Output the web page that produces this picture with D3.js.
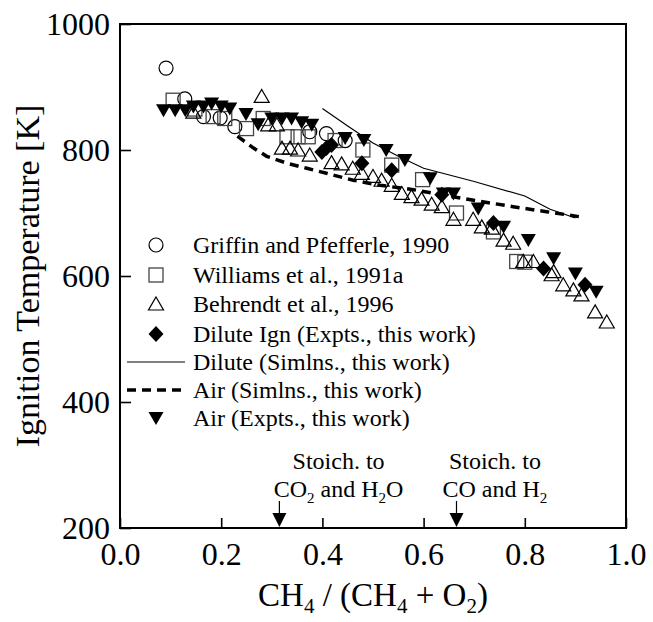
<!DOCTYPE html>
<html>
<head>
<meta charset="utf-8">
<script src="https://cdn.jsdelivr.net/npm/d3@7/dist/d3.min.js"></script>
<style>
  html, body { margin: 0; padding: 0; background: #fff; }
  svg { display: block; font-family: "Liberation Serif", "Times New Roman", serif; }
</style>
</head>
<body>
<svg id="chart" width="653" height="622"></svg>
<script>
// Ignition temperature vs. CH4 / (CH4 + O2)
const griffin = [[0.091,930],[0.128,881],[0.165,853],[0.198,851],[0.227,837],[0.375,829],[0.408,826],[0.445,815]];
const williams = [[0.105,879],[0.148,865],[0.184,853],[0.207,850],[0.25,834],[0.283,850],[0.33,821],[0.352,821],[0.372,821],[0.425,815],[0.48,800],[0.537,776],[0.598,753],[0.665,700],[0.738,670],[0.784,623],[0.80,622]];
const behrendt = [[0.145,860],[0.28,885],[0.293,840],[0.31,840],[0.32,803],[0.336,803],[0.352,800],[0.375,792],[0.418,780],[0.438,778],[0.46,771],[0.478,763],[0.50,758],[0.517,752],[0.537,744],[0.557,731],[0.576,726],[0.596,722],[0.616,714],[0.636,710],[0.659,690],[0.698,690],[0.715,678],[0.735,676],[0.758,657],[0.777,652],[0.797,623],[0.817,623],[0.853,602],[0.857,607],[0.876,586],[0.896,578],[0.912,570],[0.939,543],[0.962,527]];
const diluteIgn = [[0.399,797],[0.408,803],[0.418,808],[0.478,779],[0.537,768],[0.636,729],[0.738,684],[0.837,612],[0.919,586]];
const diluteSim = [[0.40,866],[0.45,838],[0.50,811],[0.55,790],[0.60,771],[0.70,750],[0.80,727],[0.85,706],[0.90,692]];
const airSim = [[0.232,822],[0.264,803],[0.29,790],[0.33,779],[0.369,771],[0.408,763],[0.461,752],[0.514,744],[0.58,737],[0.678,723],[0.777,710],[0.843,702],[0.909,694]];
const airExp = [[0.086,863],[0.109,863],[0.129,863],[0.145,869],[0.165,869],[0.181,874],[0.20,869],[0.217,866],[0.249,857],[0.273,841],[0.30,850],[0.32,850],[0.339,850],[0.359,844],[0.379,840],[0.445,819],[0.482,816],[0.526,800],[0.563,784],[0.613,755],[0.639,731],[0.659,731],[0.708,707],[0.758,678],[0.807,657],[0.857,628],[0.90,604],[0.941,575]];

const xMajorTicks = [0, 0.2, 0.4, 0.6, 0.8, 1.0];
const xMinorTicks = [0.05,0.1,0.15,0.25,0.3,0.35,0.45,0.5,0.55,0.65,0.7,0.75,0.85,0.9,0.95];
const yMajorTicks = [200, 400, 600, 800, 1000];
const yMinorTicks = [300, 500, 700, 900];
const stoichMarks = [0.315, 0.665];

const legendLabels = [
  "Griffin and Pfefferle, 1990",
  "Williams et al., 1991a",
  "Behrendt et al., 1996",
  "Dilute Ign (Expts., this work)",
  "Dilute (Simlns., this work)",
  "Air (Simlns., this work)",
  "Air (Expts., this work)"
];

const svg = d3.select("#chart");
const L = 120, R = 626, T = 24, B = 528;
const x = d3.scaleLinear().domain([0, 1]).range([L, R]);
const y = d3.scaleLinear().domain([200, 1000]).range([B, T]);

// axes: ticks point inward
const gx = svg.append("g").attr("transform", `translate(0,${B})`);
gx.call(d3.axisBottom(x).tickValues(xMinorTicks).tickSize(-6).tickFormat(""));
gx.call(d3.axisBottom(x).tickValues(xMajorTicks).tickSize(-10).tickPadding(14).tickFormat(d3.format(".1f")));
const gy = svg.append("g").attr("transform", `translate(${L},0)`);
gy.call(d3.axisLeft(y).tickValues(yMinorTicks).tickSize(-7).tickFormat(""));
gy.call(d3.axisLeft(y).tickValues(yMajorTicks).tickSize(-11).tickPadding(10).tickFormat(d3.format("d")));
svg.selectAll(".domain").remove();
svg.selectAll(".tick line").attr("stroke", "#000").attr("stroke-width", 1.6);
svg.selectAll(".tick text").attr("font-family", "Liberation Serif").attr("font-size", 32).attr("fill", "#000");

svg.append("rect").attr("x", L).attr("y", T).attr("width", R - L).attr("height", B - T)
  .attr("fill", "none").attr("stroke", "#000").attr("stroke-width", 2);

// symbol helpers
const sym = {
  circle: (g, cx, cy) => g.append("circle").attr("cx", cx).attr("cy", cy).attr("r", 7)
    .attr("fill", "none").attr("stroke", "#000").attr("stroke-width", 1.2),
  square: (g, cx, cy) => g.append("rect").attr("x", cx - 7).attr("y", cy - 7).attr("width", 14).attr("height", 14)
    .attr("fill", "none").attr("stroke", "#444").attr("stroke-width", 1.3),
  up: (g, cx, cy) => g.append("path").attr("d", `M${cx},${cy-7}L${cx+7.5},${cy+6}L${cx-7.5},${cy+6}Z`)
    .attr("fill", "none").attr("stroke", "#000").attr("stroke-width", 1.2),
  diamond: (g, cx, cy) => g.append("path").attr("d", `M${cx},${cy-8}L${cx+7.5},${cy}L${cx},${cy+8}L${cx-7.5},${cy}Z`)
    .attr("fill", "#000"),
  down: (g, cx, cy) => g.append("path").attr("d", `M${cx-7.5},${cy-6}L${cx+7.5},${cy-6}L${cx},${cy+7}Z`)
    .attr("fill", "#000")
};

const marks = svg.append("g");
const line = d3.line().x(d => x(d[0])).y(d => y(d[1]));
marks.append("path").datum(diluteSim).attr("d", line)
  .attr("fill", "none").attr("stroke", "#000").attr("stroke-width", 1.2);
marks.append("path").datum(airSim).attr("d", line)
  .attr("fill", "none").attr("stroke", "#000").attr("stroke-width", 3.5).attr("stroke-dasharray", "9,6");

[[griffin, "circle"], [williams, "square"], [behrendt, "up"], [diluteIgn, "diamond"], [airExp, "down"]]
  .forEach(([data, kind]) => data.forEach(d => sym[kind](marks, x(d[0]), y(d[1]))));

// legend
const leg = svg.append("g");
const legY = [245, 275, 304, 334, 362, 390, 418];
const legKinds = ["circle", "square", "up", "diamond", "line", "dash", "down"];
legKinds.forEach((k, i) => {
  const cy = legY[i];
  if (k === "line") {
    leg.append("line").attr("x1", 127).attr("x2", 185).attr("y1", cy).attr("y2", cy)
      .attr("stroke", "#000").attr("stroke-width", 1.2);
  } else if (k === "dash") {
    leg.append("line").attr("x1", 127).attr("x2", 185).attr("y1", cy).attr("y2", cy)
      .attr("stroke", "#000").attr("stroke-width", 3.5).attr("stroke-dasharray", "9,6");
  } else {
    sym[k](leg, 156, cy);
  }
  leg.append("text").attr("x", 193).attr("y", cy + 8).attr("font-size", 24).text(legendLabels[i]);
});

// stoichiometric markers
const ann = svg.append("g").attr("font-size", 24).attr("text-anchor", "middle");
const a1 = x(0.432), a2 = x(0.741);
ann.append("text").attr("x", a1).attr("y", 469).text("Stoich. to");
const t1 = ann.append("text").attr("x", a1).attr("y", 497);
t1.append("tspan").text("CO");
t1.append("tspan").attr("font-size", 15).attr("dy", 6).text("2");
t1.append("tspan").attr("dy", -6).text(" and H");
t1.append("tspan").attr("font-size", 15).attr("dy", 6).text("2");
t1.append("tspan").attr("dy", -6).text("O");
ann.append("text").attr("x", a2).attr("y", 469).text("Stoich. to");
const t2 = ann.append("text").attr("x", a2).attr("y", 497);
t2.append("tspan").text("CO and H");
t2.append("tspan").attr("font-size", 15).attr("dy", 6).text("2");

stoichMarks.forEach(v => {
  const px = x(v);
  svg.append("line").attr("x1", px).attr("x2", px).attr("y1", 501).attr("y2", 514)
    .attr("stroke", "#000").attr("stroke-width", 1.2);
  svg.append("path").attr("d", `M${px-7},${513}L${px+7},${513}L${px},${527}Z`).attr("fill", "#000");
});

// axis titles
const xt = svg.append("text").attr("x", (L + R) / 2).attr("y", 606).attr("text-anchor", "middle").attr("font-size", 33);
xt.append("tspan").text("CH");
xt.append("tspan").attr("font-size", 21).attr("dy", 7).text("4");
xt.append("tspan").attr("dy", -7).text(" / (CH");
xt.append("tspan").attr("font-size", 21).attr("dy", 7).text("4");
xt.append("tspan").attr("dy", -7).text(" + O");
xt.append("tspan").attr("font-size", 21).attr("dy", 7).text("2");
xt.append("tspan").attr("dy", -7).text(")");

svg.append("text").attr("transform", `translate(39,${(T + B) / 2}) rotate(-90)`)
  .attr("text-anchor", "middle").attr("font-size", 34).text("Ignition Temperature [K]");
</script>
</body>
</html>
